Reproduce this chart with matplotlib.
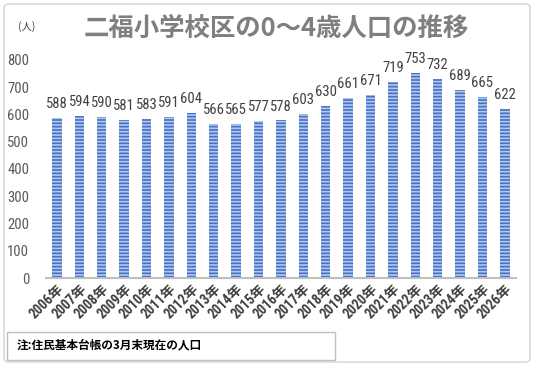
import matplotlib
matplotlib.use("Agg")
import matplotlib.pyplot as plt
from matplotlib.patches import FancyBboxPatch, Rectangle
from matplotlib import font_manager

years = [f"{y}年" for y in range(2006, 2027)]
values = [588, 594, 590, 581, 583, 591, 604, 566, 565, 577, 578,
          603, 630, 661, 671, 719, 753, 732, 689, 665, 622]
yticks = [0, 100, 200, 300, 400, 500, 600, 700, 800]

title = "二福小学校区の0～4歳人口の推移"
unit = "(人)"
note = "注:住民基本台帳の3月末現在の人口"

fonts = font_manager.fontManager.ttflist
names = {f.name for f in fonts}
num_font = None
for cand in ["Liberation Sans Narrow", "Roboto Condensed", "Open Sans Condensed",
             "Arial Narrow", "DejaVu Sans Condensed"]:
    if cand in names:
        num_font = cand
        break
num_stretch = 'normal'
if num_font is None:
    cond = [f for f in fonts if f.name == "DejaVu Sans" and str(f.stretch) in ("condensed", "semi-condensed")]
    if cond:
        num_font = "DejaVu Sans"
        num_stretch = 'condensed'
    else:
        num_font = "Liberation Sans"
num_size = 10.5 if num_font != "Liberation Sans" else 9.5

cjk = "Noto Sans CJK JP"
plt.rcParams['font.family'] = [num_font, cjk, 'DejaVu Sans']
plt.rcParams['hatch.linewidth'] = 1.2
plt.rcParams['hatch.color'] = '#b4c7ee'

fig = plt.figure(figsize=(5.34, 3.66), dpi=100)
fig.patch.set_facecolor('white')

fig.patches.append(FancyBboxPatch((4/534, 4/366), 526/534, 358/366,
                                  boxstyle="round,pad=0,rounding_size=0.01",
                                  transform=fig.transFigure, facecolor='none',
                                  edgecolor='#d9d9d9', linewidth=1.2))

ax = fig.add_axes([45.8/534, 1 - 278/366, (516 - 45.8)/534, (278 - 60)/366])
x = list(range(len(values)))
ax.bar(x, values, width=0.42, color='#4472c4', edgecolor='#b4c7ee',
       linewidth=0, hatch='-----')
ax.set_xlim(-0.5, len(values) - 0.5)
ax.set_ylim(0, 800)
ax.set_yticks(yticks)
ax.set_yticklabels([str(v) for v in yticks], fontsize=num_size, color='#595959',
                   fontstretch=num_stretch)
ax.tick_params(axis='y', length=0, pad=12)
ax.set_xticks(x)
ax.set_xticklabels(years, rotation=45, ha='right', rotation_mode='anchor',
                   fontsize=10, color='#404040', fontweight='bold',
                   family=[num_font, cjk], fontstretch=num_stretch)
ax.tick_params(axis='x', length=0, pad=3)
for s in ['top', 'right', 'left']:
    ax.spines[s].set_visible(False)
ax.spines['bottom'].set_color('#bfbfbf')
ax.spines['bottom'].set_linewidth(1.5)

for xi, v in zip(x, values):
    ax.annotate(str(v), (xi, v), xytext=(0, 5), textcoords='offset points',
                ha='center', va='bottom', fontsize=num_size, color='#404040',
                fontstretch=num_stretch, annotation_clip=False)

fig.text(276/534, 1 - 28/366, title, ha='center', va='center',
         fontsize=18.3, fontweight='bold', color='#7f7f7f', family=[cjk])
fig.text(27/534, 1 - 27/366, unit, ha='center', va='center',
         fontsize=7.5, color='#404040', family=[cjk])

fig.patches.append(Rectangle((7/534, 1 - 360/366), (335 - 7)/534, 28/366,
                             transform=fig.transFigure, facecolor='white',
                             edgecolor='#bfbfbf', linewidth=1.0))
fig.text(17/534, 1 - 345/366, note, ha='left', va='center',
         fontsize=8.4, fontweight='bold', color='#000000', family=[cjk])

fig.savefig('out.png', dpi=100)
